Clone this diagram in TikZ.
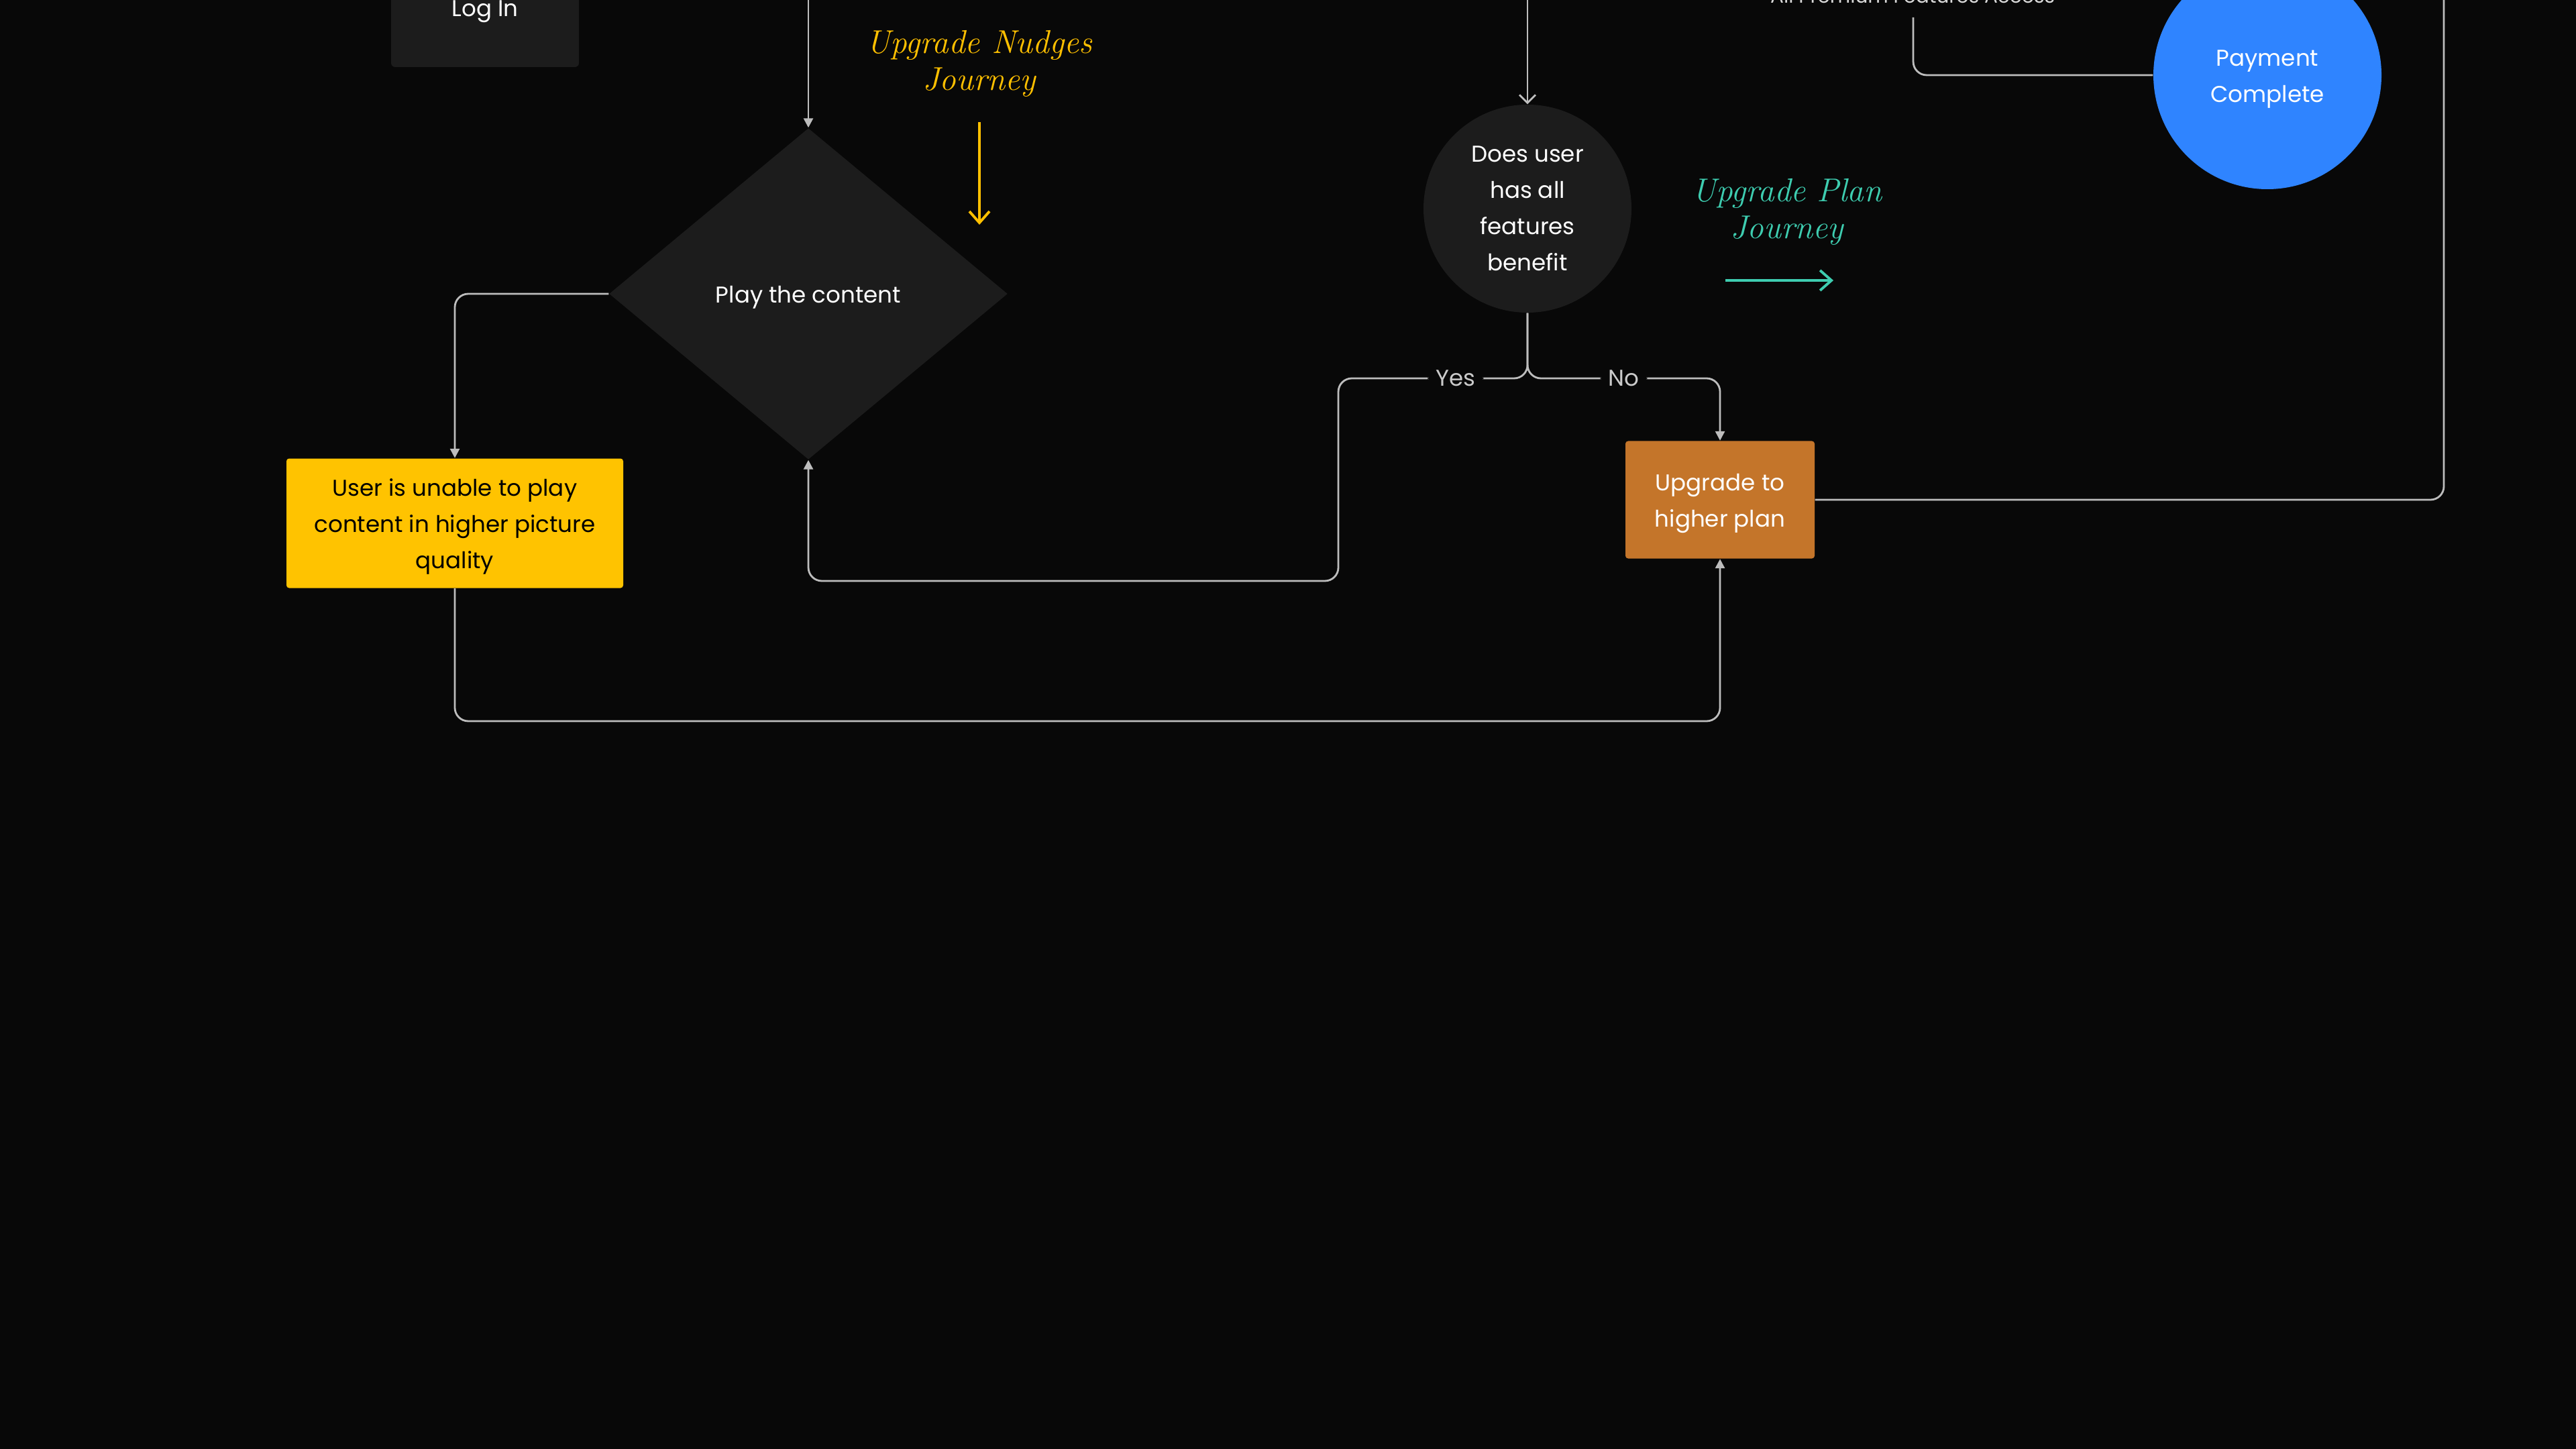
\documentclass[tikz,border=0pt]{standalone}
\usepackage{fontspec}
\newfontfamily\uifont{Poppins}
\usetikzlibrary{positioning, arrows.meta, shapes.geometric}

\definecolor{canvas}{HTML}{080808}
\definecolor{card}{HTML}{1C1C1C}
\definecolor{wire}{HTML}{BDBDBD}
\definecolor{warnfill}{HTML}{FFC300}
\definecolor{planfill}{HTML}{C4752A}
\definecolor{payblue}{HTML}{2F84FF}
\definecolor{nudge}{HTML}{FFC000}
\definecolor{planteal}{HTML}{3ECDB0}

\begin{document}
\begin{tikzpicture}[x=1cm, y=-1cm,
	txt/.style={font=\uifont\fontsize{9.7}{15.4}\selectfont, align=center, text=white},
	lifted/.style={execute at begin node={\rule{0pt}{#1}}},
	lifted/.default=10.4pt,
	cardbox/.style={txt, fill=card, rounded corners=0.06cm, inner sep=0pt},
	decision/.style={txt, diamond, fill=card, inner sep=0pt},
	bubble/.style={txt, circle, inner sep=0pt},
	flow/.style={draw=wire, line width=0.8pt, rounded corners=0.2cm},
	tip/.style={-{Triangle[length=0.14cm, width=0.14cm]}},
	vtip/.style={-{Straight Barb[length=0.12cm, width=0.24cm]}},
	lbl/.style={txt, text=wire!80!white, fill=canvas, inner xsep=0.12cm, inner ysep=0.02cm},
	hand/.style={font=\rmfamily\itshape\fontsize{14}{15.6}\selectfont, align=center},
	handarrow/.style={line width=1.1pt, -{Straight Barb[length=0.17cm, width=0.30cm]}}]

	% Canvas
	\useasboundingbox (0,0) rectangle (38.4,21.6);
	\fill[canvas] (0,0) rectangle (38.4,21.6);
	\clip (0,0) rectangle (38.4,21.6);

	% Nodes
	\node (login) at (7.23, 0.11) [cardbox, lifted, minimum width=2.80cm, minimum height=1.78cm] {Log In};
	\node (play) at (12.05, 4.38) [decision, lifted, minimum width=5.94cm, minimum height=4.94cm] {Play the content};
	\node (unable) at (6.78, 7.80) [cardbox, lifted=41.1pt, fill=warnfill, text=black, rounded corners=0.04cm, minimum width=5.02cm, minimum height=1.93cm] {User is unable to play\\content in higher picture\\quality};
	\node (check) at (22.77, 3.11) [bubble, fill=card, minimum size=3.10cm] {Does user\\has all\\features\\benefit};
	\node (upgrade) at (25.64, 7.45) [cardbox, lifted=25.6pt, fill=planfill, rounded corners=0.04cm, minimum width=2.82cm, minimum height=1.75cm] {Upgrade to\\higher plan};
	\node (paid) at (33.80, 1.12) [bubble, lifted=25.6pt, fill=payblue, minimum size=3.40cm] {Payment\\Complete};
	\node (premium) at (28.51, 0.05) [txt, anchor=base, text=white!85!black, font=\uifont\fontsize{8.4}{12}\selectfont] {All Premium Features Access};

	% Loose ends leaving the frame
	\coordinate (playin) at (12.05, -0.3);
	\coordinate (checkin) at (22.77, -0.3);
	\coordinate (paytail) at (28.52, 0.26);
	\coordinate (payout) at (36.43, -0.3);
	\coordinate (split) at (22.77, 5.64);
	\coordinate (yesfloor) at (19.95, 8.66);
	\coordinate (lowfloor) at (6.78, 10.75);

	% Connectors
	\draw[flow, tip] (playin) -- (play.north);
	\draw[flow, vtip] (checkin) -- (check.north);
	\draw[flow, tip] (play.west) -| (unable.north);
	\draw[flow, tip] (check.south) -- (split) -| node[lbl, pos=0.19] {Yes} (yesfloor) -| (play.south);
	\draw[flow, tip] (check.south) -- (split) -| node[lbl, pos=0.25] {No} (upgrade.north);
	\draw[flow, tip] (unable.south) -- (lowfloor) -| (upgrade.south);
	\draw[flow] (upgrade.east) -| (payout);
	\draw[flow] (paytail) |- (paid.west);

	% Journey notes
	\node (nudgenote) at (14.60, 0.95) [hand, text=nudge] {Upgrade Nudges\\Journey};
	\coordinate (nudgefrom) at (14.60, 1.82);
	\coordinate (nudgeto) at (14.60, 3.35);
	\draw[handarrow, nudge] (nudgefrom) -- (nudgeto);

	\node (plannote) at (26.64, 3.16) [hand, text=planteal] {Upgrade Plan\\Journey};
	\coordinate (planfrom) at (25.72, 4.18);
	\coordinate (planto) at (27.33, 4.18);
	\draw[handarrow, planteal] (planfrom) -- (planto);
\end{tikzpicture}
\end{document}
